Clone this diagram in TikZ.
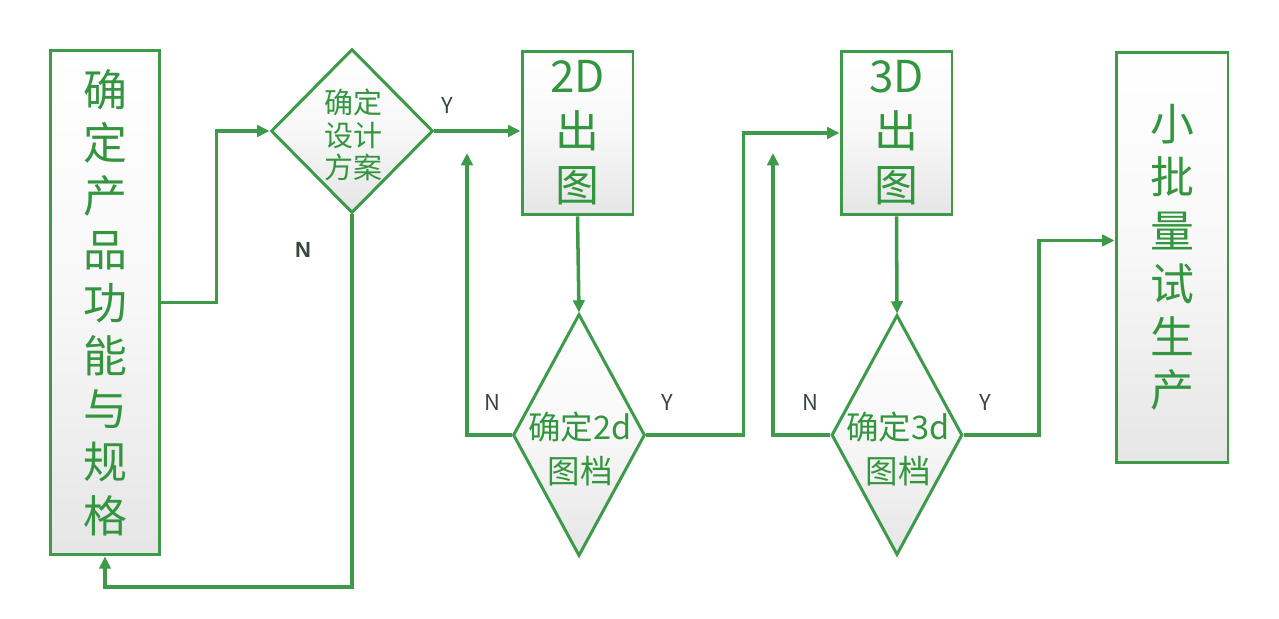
\documentclass[tikz,border=0pt]{standalone}
\usepackage{fontspec}
\setmainfont{Noto Sans CJK SC}
\newfontfamily\latinbold{Liberation Sans}
\usetikzlibrary{shapes.geometric,arrows.meta,calc}
\definecolor{lgreen}{HTML}{3C9A48}
\definecolor{tgreen}{HTML}{33963F}
\definecolor{lblgray}{HTML}{3A463C}
\begin{document}
\begin{tikzpicture}[x=0.02cm,y=-0.02cm,
  shadefill/.style={top color=white,bottom color=black!10,middle color=black!3},
  box/.style={draw=lgreen,line width=1.7pt,shadefill,rectangle,inner sep=0pt,
    text=tgreen,align=center},
  dia/.style={draw=lgreen,line width=1.7pt,shadefill,diamond,inner sep=0pt,aspect=1},
  dtext/.style={text=tgreen,align=center,inner sep=0pt},
  conn/.style={draw=lgreen,line width=2pt},
  arr/.style={conn,-{Triangle[length=7pt,width=6.5pt]}},
  yn/.style={text=lblgray,font=\fontsize{12.5pt}{14pt}\selectfont,inner sep=0pt},
  bigtxt/.style={font=\fontsize{25pt}{30.3pt}\selectfont},
  midtxt/.style={font=\fontsize{25pt}{31pt}\selectfont}
]
\useasboundingbox (0,0) rectangle (1279,619);

% boxes
\node[box,bigtxt,minimum width=2.2cm,minimum height=10.1cm] (b1) at (105,302.5)
  {确\\定\\产\\品\\功\\能\\与\\规\\格};
\node[box,midtxt,minimum width=2.22cm,minimum height=3.28cm] (b2) at (577.5,133)
  {2D\\出\\图};
\node[box,midtxt,minimum width=2.22cm,minimum height=3.28cm] (b3) at (896.5,133)
  {3D\\出\\图};
\node[box,bigtxt,minimum width=2.24cm,minimum height=8.22cm] (b4) at (1172,257.5)
  {小\\批\\量\\试\\生\\产};

% diamonds
\node[dia,minimum width=3.24cm,minimum height=3.28cm] (d1) at (352,131) {};
\node[dtext,font=\fontsize{16.5pt}{18.5pt}\selectfont] (d1t) at (353,135) {确定\\设计\\方案};
\node[dia,minimum width=2.64cm,minimum height=4.84cm] (d2) at (579,435) {};
\node[dtext,font=\fontsize{18.5pt}{25.5pt}\selectfont] (d2t) at (580,449) {确定2d\\图档};
\node[dia,minimum width=2.62cm,minimum height=4.8cm] (d3) at (897,435) {};
\node[dtext,font=\fontsize{18.5pt}{25.5pt}\selectfont] (d3t) at (898,449) {确定3d\\图档};

% free ends
\coordinate (n1) at (105,587);
\coordinate (t2) at (467,153);
\coordinate (t3) at (773,153);

% connectors
\draw[arr] (b1.east) -- ++(55,0) |- (d1.west);
\draw[arr] (d1.east) -- (d1.east -| b2.west);
\draw[arr] (d1.south) |- (n1) -- (b1.south);
\draw[arr] (b2.south) -- (d2.north);
\draw[arr] (d2.west) -| (t2);
\draw[arr] (d2.east) -- ++(97,0) |- (b3.west);
\draw[arr] (b3.south) -- (d3.north);
\draw[arr] (d3.west) -| (t3);
\draw[arr] (d3.east) -- ++(75,0) |- ($(b4.west)+(0,-17)$);

% labels
\node[yn] (y1) at (447,105) {Y};
\node[yn,font=\latinbold\bfseries\fontsize{12.5pt}{14pt}\selectfont] (n1l) at (303,250) {N};
\node[yn] (n2l) at (492,402) {N};
\node[yn] (y2) at (667,402) {Y};
\node[yn] (n3l) at (810,402) {N};
\node[yn] (y3) at (985,402) {Y};
\end{tikzpicture}
\end{document}
